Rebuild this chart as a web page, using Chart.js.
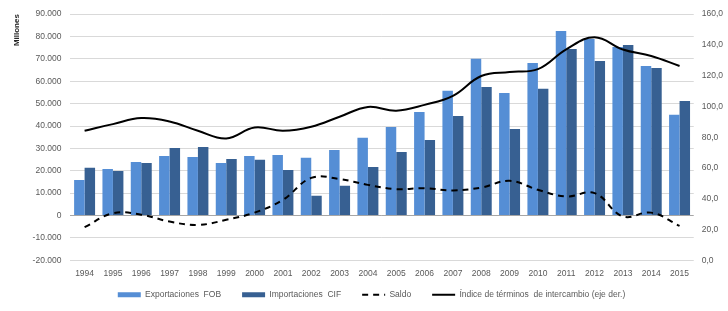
<!DOCTYPE html>
<html>
<head>
<meta charset="utf-8">
<script src="https://cdn.jsdelivr.net/npm/chart.js@4"></script>
<style>
  html, body { margin: 0; padding: 0; background: #fff; overflow: hidden; }
  #wrap { width: 728px; height: 311px; }
</style>
</head>
<body>
<div id="wrap"><canvas id="chart"></canvas></div>
<script>
var years = ['1994','1995','1996','1997','1998','1999','2000','2001','2002','2003','2004',
             '2005','2006','2007','2008','2009','2010','2011','2012','2013','2014','2015'];

// millones
var exportaciones = [15900, 20800, 23900, 26600, 26200, 23500, 26600, 27100, 25800, 29300, 34700,
                     39600, 46300, 55700, 70000, 54800, 68200, 82500, 78900, 75300, 66800, 45000];
var importaciones = [21300, 19900, 23500, 30200, 30600, 25300, 24900, 20400, 8800, 13300, 21700,
                     28400, 33800, 44500, 57400, 38700, 56600, 74400, 69100, 76200, 65900, 51200];
var saldo = [-5200, 1000, 400, -2700, -4200, -1900, 1300, 7000, 16800, 16300, 13700,
             11800, 12200, 11200, 12500, 15500, 11500, 8500, 10000, -400, 1300, -4600];
// eje derecho
var indiceTerminos = [84.2, 88.5, 92.4, 90.2, 84.2, 79.2, 86.3, 84.2, 86.8, 93.3, 99.7,
                      97.2, 101.0, 106.9, 119.8, 122.4, 124.2, 137.1, 145.0, 137.0, 132.8, 126.3];

var txt = '#595959';
var fam = '"Liberation Sans", Arial, sans-serif';

function fmtMiles(v) {
    var s = Math.abs(v).toString().replace(/\B(?=(\d{3})+(?!\d))/g, '.');
    return (v < 0 ? '-' : '') + s;
}

var ctx = document.getElementById('chart').getContext('2d');
var myChart = new Chart(ctx, {
    type: 'bar',
    data: {
        labels: years,
        datasets: [{
            label: 'Exportaciones  FOB',
            data: exportaciones,
            backgroundColor: '#558ED5',
            borderWidth: 0,
            yAxisID: 'y',
            order: 2,
            pointStyle: 'rect',
            categoryPercentage: 0.74,
            barPercentage: 1.0
        }, {
            label: 'Importaciones  CIF',
            data: importaciones,
            backgroundColor: '#376092',
            borderWidth: 0,
            yAxisID: 'y',
            order: 2,
            pointStyle: 'rect',
            categoryPercentage: 0.74,
            barPercentage: 1.0
        }, {
            type: 'line',
            label: 'Saldo',
            data: saldo,
            borderColor: '#000',
            backgroundColor: '#000',
            borderWidth: 2,
            borderDash: [6, 5],
            pointRadius: 0,
            tension: 0.4,
            fill: false,
            yAxisID: 'y',
            order: 1,
            pointStyle: 'line'
        }, {
            type: 'line',
            label: 'Índice de términos  de intercambio (eje der.)',
            data: indiceTerminos,
            borderColor: '#000',
            backgroundColor: '#000',
            borderWidth: 2,
            pointRadius: 0,
            tension: 0.4,
            fill: false,
            yAxisID: 'y1',
            order: 0,
            pointStyle: 'line'
        }]
    },
    options: {
        responsive: true,
        maintainAspectRatio: false,
        animation: false,
        layout: { padding: { left: 12, right: -3, top: 8, bottom: 2 } },
        plugins: {
            tooltip: { enabled: false },
            legend: {
                position: 'bottom',
                labels: {
                    usePointStyle: true,
                    pointStyleWidth: 23,
                    boxHeight: 5,
                    padding: 4,
                    color: txt,
                    font: { family: fam, size: 8.5 },
                    sort: function (a, b) { return a.datasetIndex - b.datasetIndex; },
                    generateLabels: function (chart) {
                        var items = Chart.defaults.plugins.legend.labels.generateLabels(chart);
                        items.forEach(function (it) {
                            var ds = chart.data.datasets[it.datasetIndex];
                            if (ds.type === 'line') {
                                it.lineDash = ds.borderDash || [];
                                it.lineWidth = 2;
                                it.strokeStyle = '#000';
                            }
                            if (it.datasetIndex < 3) it.text += '\u2003\u2003';
                        });
                        return items;
                    }
                }
            }
        },
        scales: {
            x: {
                grid: { display: false, drawTicks: false },
                border: { display: false },
                ticks: { color: txt, font: { family: fam, size: 8.5 }, padding: 8, maxRotation: 0 }
            },
            y: {
                position: 'left',
                min: -20000,
                max: 90000,
                grid: {
                    drawTicks: false,
                    color: function (c) { return c.tick && c.tick.value === 0 ? '#A6A6A6' : '#D9D9D9'; },
                    lineWidth: 1
                },
                border: { display: false },
                ticks: {
                    stepSize: 10000,
                    color: txt,
                    padding: 9,
                    font: { family: fam, size: 8.5 },
                    callback: function (v) { return fmtMiles(v); }
                },
                title: {
                    display: true,
                    text: 'Millones',
                    align: 'end',
                    color: '#262626',
                    font: { family: fam, size: 8, weight: 'bold' },
                    padding: { top: 0, bottom: 2 }
                }
            },
            y1: {
                position: 'right',
                min: 0,
                max: 160,
                grid: { display: false, drawTicks: false },
                border: { display: false },
                ticks: {
                    stepSize: 20,
                    color: txt,
                    padding: 8,
                    font: { family: fam, size: 8.5 },
                    callback: function (v) { return v.toFixed(1).replace('.', ','); }
                }
            }
        }
    }
});
</script>
</body>
</html>
